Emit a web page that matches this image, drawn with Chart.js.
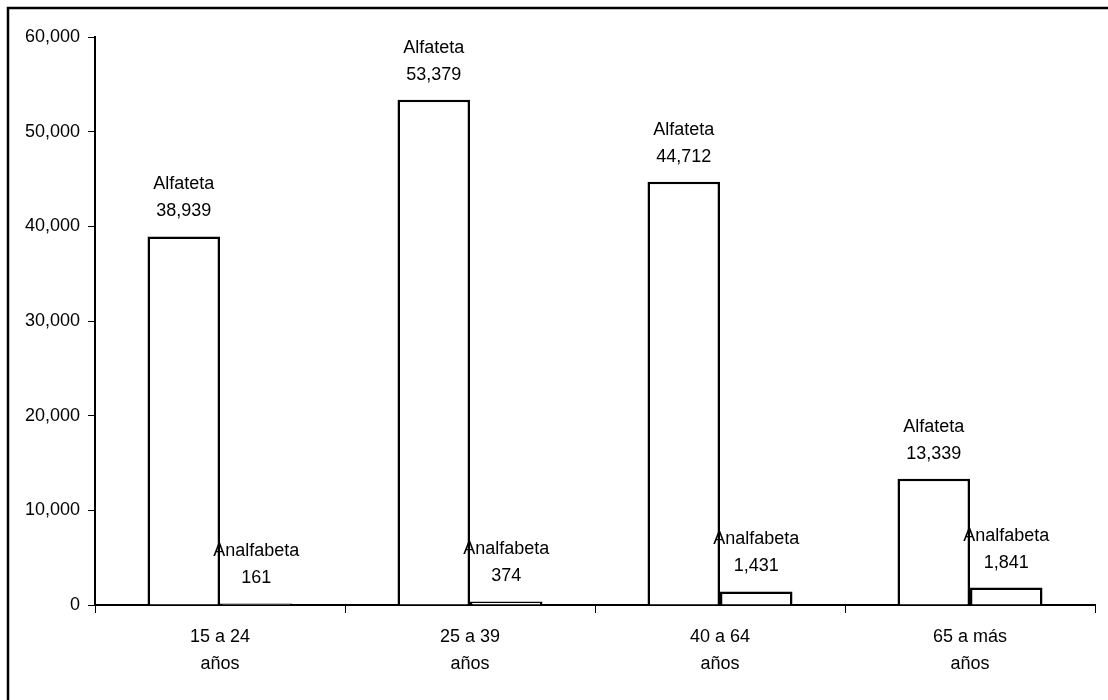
<!DOCTYPE html>
<html lang="es">
<head>
    <meta charset="UTF-8">
    <title>Población alfabeta y analfabeta por edad</title>
    <script src="https://cdn.jsdelivr.net/npm/chart.js"></script>
    <style>
        body {
            margin: 0;
            background: #fff;
        }
        .chart-container {
            position: relative;
            width: 1108px;
            height: 700px;
        }
    </style>
</head>
<body>
    <div class="chart-container">
        <canvas id="edadChart" width="1108" height="700"></canvas>
    </div>

    <script>
        // Datos
        const grupos = [['15 a 24', 'años'], ['25 a 39', 'años'], ['40 a 64', 'años'], ['65 a más', 'años']];
        const alfabeta = [38939, 53379, 44712, 13339];
        const analfabeta = [161, 374, 1431, 1841];
        const nombres = ['Alfateta', 'Analfabeta'];
        const yTicks = [0, 10000, 20000, 30000, 40000, 50000, 60000];

        const fmt = v => v.toLocaleString('en-US');
        const fuente = '"Liberation Sans", Arial, sans-serif';

        // etiquetas encima de cada barra + marco exterior
        const etiquetas = {
            id: 'etiquetas',
            afterDatasetsDraw(chart) {
                const ctx = chart.ctx;
                ctx.save();
                ctx.fillStyle = '#000';
                ctx.font = '18px ' + fuente;
                ctx.textAlign = 'center';
                ctx.textBaseline = 'middle';
                chart.data.datasets.forEach((ds, i) => {
                    chart.getDatasetMeta(i).data.forEach((bar, j) => {
                        ctx.fillText(nombres[i], bar.x, bar.y - 52);
                        ctx.fillText(fmt(ds.data[j]), bar.x, bar.y - 25);
                    });
                });
                // marco
                ctx.strokeStyle = '#000';
                ctx.lineWidth = 2.5;
                ctx.beginPath();
                ctx.moveTo(8, 700);
                ctx.lineTo(8, 8);
                ctx.lineTo(1108, 8);
                ctx.stroke();
                ctx.restore();
            }
        };

        new Chart(document.getElementById('edadChart'), {
            type: 'bar',
            data: {
                labels: grupos,
                datasets: [{
                    label: nombres[0],
                    data: alfabeta,
                    backgroundColor: '#fff',
                    borderColor: '#000',
                    borderWidth: 2.5,
                    categoryPercentage: 0.58,
                    barPercentage: 1.0
                }, {
                    label: nombres[1],
                    data: analfabeta,
                    backgroundColor: '#fff',
                    borderColor: '#000',
                    borderWidth: 2.5,
                    categoryPercentage: 0.58,
                    barPercentage: 1.0
                }]
            },
            options: {
                responsive: false,
                animation: false,
                layout: { padding: { top: 37, right: 13, left: 0, bottom: 0 } },
                plugins: {
                    legend: { display: false },
                    tooltip: { enabled: false }
                },
                scales: {
                    x: {
                        afterFit: s => { s.height = 95; },
                        grid: {
                            offset: true,
                            drawOnChartArea: false,
                            tickLength: 8,
                            color: '#000'
                        },
                        border: { color: '#000', width: 2 },
                        ticks: {
                            color: '#000',
                            autoSkip: false,
                            font: { family: fuente, size: 18, lineHeight: 1.5 },
                            padding: 11,
                            maxRotation: 0
                        }
                    },
                    y: {
                        min: 0,
                        max: 60000,
                        afterFit: s => { s.width = 95; },
                        afterBuildTicks: s => { s.ticks = yTicks.map(v => ({ value: v })); },
                        grid: {
                            drawOnChartArea: false,
                            tickLength: 7,
                            color: '#000'
                        },
                        border: { color: '#000', width: 2 },
                        ticks: {
                            color: '#000',
                            font: { family: fuente, size: 18 },
                            padding: 8,
                            callback: v => fmt(v)
                        }
                    }
                }
            },
            plugins: [etiquetas]
        });
    </script>
</body>
</html>
